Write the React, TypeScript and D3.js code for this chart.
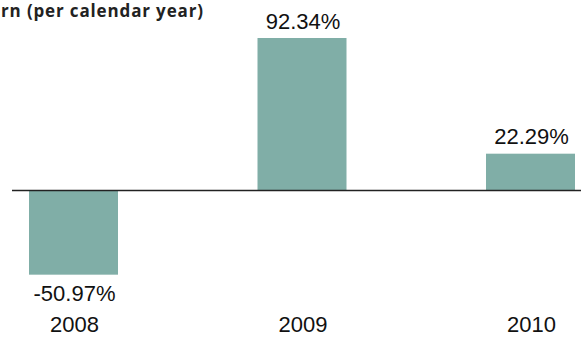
import React from "react";
import * as d3 from "d3";

const years = ["2008", "2009", "2010"];
const returns = [-50.97, 92.34, 22.29];
const valueLabels = ["-50.97%", "92.34%", "22.29%"];
const titleText = "rn (per calendar year)";

const W = 581;
const H = 337;

export default function App() {
  const x = d3.scaleBand<string>().domain(years).range([29, 575]).paddingInner(0.6105).paddingOuter(0);
  const y = d3.scaleLinear().domain([0, 92.34]).range([190.5, 38]);
  const bw = x.bandwidth();

  return (
    <svg width={W} height={H} style={{ position: "absolute", left: 0, top: 0, background: "#fff" }}>
      <text
        x={1}
        y={17}
        fontFamily="'Open Sans', sans-serif"
        fontWeight={700}
        fontSize={17}
        fill="#222"
        textLength={202}
        lengthAdjust="spacing"
      >
        {titleText}
      </text>
      {years.map((yr, i) => {
        const v = returns[i];
        const x0 = x(yr)!;
        const top = v >= 0 ? y(v) : y(0);
        const h = Math.abs(y(v) - y(0));
        const cx = x0 + bw / 2;
        return (
          <g key={yr}>
            <rect x={x0} y={top} width={bw} height={h} fill="#80aea7" />
            <text
              x={cx + 1}
              y={v >= 0 ? y(v) - 9.5 : y(v) + 26}
              textAnchor="middle"
              fontFamily="'Liberation Sans', Arial, sans-serif"
              fontSize={22}
              fill="#111"
            >
              {valueLabels[i]}
            </text>
            <text
              x={cx + 1}
              y={331.5}
              textAnchor="middle"
              fontFamily="'Liberation Sans', Arial, sans-serif"
              fontSize={22}
              fill="#111"
            >
              {yr}
            </text>
          </g>
        );
      })}
      <line x1={12} x2={W} y1={y(0)} y2={y(0)} stroke="#222" strokeWidth={1.5} />
    </svg>
  );
}
